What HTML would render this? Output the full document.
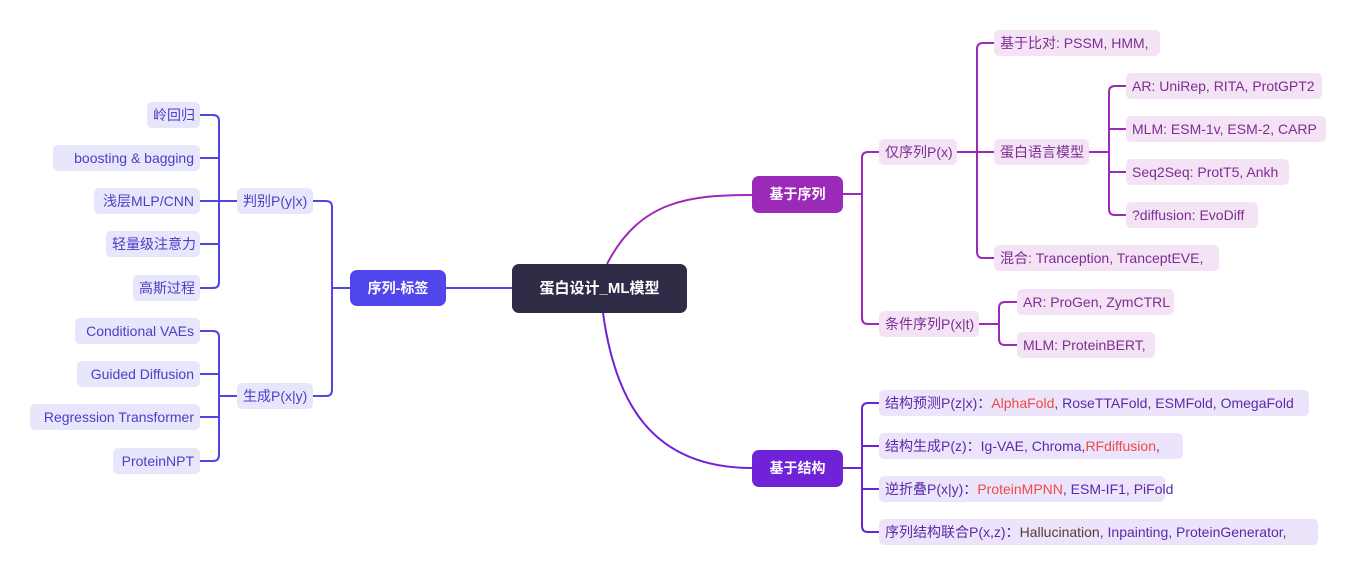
<!DOCTYPE html>
<html><head><meta charset="utf-8"><style>
body{margin:0;width:1357px;height:577px;background:#fff;position:relative;overflow:hidden;font-family:"Liberation Sans","Noto Sans CJK SC",sans-serif;}
.n{position:absolute;height:26px;line-height:26px;font-size:14px;border-radius:5px;padding:0 6px;box-sizing:border-box;white-space:nowrap;}
.s{background:#f3e3f5;color:#7d2d94;}
.t{background:#ece4fb;color:#5a2aa8;}
.l{background:#e8e6fb;color:#4a3fc8;text-align:right;}
.m{position:absolute;color:#fff;font-weight:bold;font-size:14px;text-align:center;border-radius:7px;}
.r{color:#f04848}
svg{position:absolute;left:0;top:0}
</style></head><body>
<svg width="1357" height="577" fill="none" stroke-width="2">
<g stroke="#4f46e5">
<path d="M446 288 H512"/>
<path d="M350 288 H332 M313 201 H326 Q332 201 332 207 V390 Q332 396 326 396 H313"/>
<path d="M237 201 H219 M200 115 H213 Q219 115 219 121 V282 Q219 288 213 288 H200 M200 158 H219 M200 201 H219 M200 244 H219"/>
<path d="M237 396 H219 M200 331 H213 Q219 331 219 337 V455 Q219 461 213 461 H200 M200 374 H219 M200 417 H219"/>
</g>
<path d="M607 264 C640 200 690 195 752 195" stroke="#9c2ab8"/>
<path d="M603 313 C615 400 650 468 752 468" stroke="#7022d8"/>
<g stroke="#9c2ab8">
<path d="M843 194 H862 M879 152 H868 Q862 152 862 158 V318 Q862 324 868 324 H879"/>
<path d="M957 152 H994 M994 43 H983 Q977 43 977 49 V252 Q977 258 983 258 H994"/>
<path d="M1089 152 H1109 M1126 86 H1115 Q1109 86 1109 92 V209 Q1109 215 1115 215 H1126 M1109 129 H1126 M1109 172 H1126"/>
<path d="M979 324 H999 M1017 302 H1005 Q999 302 999 308 V339 Q999 345 1005 345 H1017"/>
</g>
<g stroke="#7022d8">
<path d="M843 468 H862 M879 403 H868 Q862 403 862 409 V526 Q862 532 868 532 H879 M862 446 H879 M862 489 H879"/>
</g>
</svg>
<div class="m" style="left:512px;top:264px;width:175px;height:49px;line-height:49px;background:#2e2c47;font-size:15px">蛋白设计_ML模型</div>
<div class="m" style="left:350px;top:270px;width:96px;height:36px;line-height:36px;background:#5046ec">序列-标签</div>
<div class="m" style="left:752px;top:176px;width:91px;height:37px;line-height:37px;background:#9c2ab8">基于序列</div>
<div class="m" style="left:752px;top:450px;width:91px;height:37px;line-height:37px;background:#7022d8">基于结构</div>

<div class="n l" style="left:237px;top:188px;width:76px">判别P(y|x)</div>
<div class="n l" style="left:237px;top:383px;width:76px">生成P(x|y)</div>
<div class="n l" style="left:147px;top:102px;width:53px">岭回归</div>
<div class="n l" style="left:53px;top:145px;width:147px">boosting &amp; bagging</div>
<div class="n l" style="left:94px;top:188px;width:106px">浅层MLP/CNN</div>
<div class="n l" style="left:106px;top:231px;width:94px">轻量级注意力</div>
<div class="n l" style="left:133px;top:275px;width:67px">高斯过程</div>
<div class="n l" style="left:75px;top:318px;width:125px">Conditional VAEs</div>
<div class="n l" style="left:77px;top:361px;width:123px">Guided Diffusion</div>
<div class="n l" style="left:30px;top:404px;width:170px">Regression Transformer</div>
<div class="n l" style="left:113px;top:448px;width:87px">ProteinNPT</div>

<div class="n s" style="left:879px;top:139px;width:78px">仅序列P(x)</div>
<div class="n s" style="left:994px;top:30px;width:166px">基于比对: PSSM, HMM,</div>
<div class="n s" style="left:994px;top:139px;width:95px">蛋白语言模型</div>
<div class="n s" style="left:1126px;top:73px;width:196px">AR: UniRep, RITA, ProtGPT2</div>
<div class="n s" style="left:1126px;top:116px;width:200px">MLM: ESM-1v, ESM-2, CARP</div>
<div class="n s" style="left:1126px;top:159px;width:163px">Seq2Seq: ProtT5, Ankh</div>
<div class="n s" style="left:1126px;top:202px;width:132px">?diffusion: EvoDiff</div>
<div class="n s" style="left:994px;top:245px;width:225px">混合: Tranception, TranceptEVE,</div>
<div class="n s" style="left:879px;top:311px;width:100px">条件序列P(x|t)</div>
<div class="n s" style="left:1017px;top:289px;width:157px">AR: ProGen, ZymCTRL</div>
<div class="n s" style="left:1017px;top:332px;width:138px">MLM: ProteinBERT,</div>

<div class="n t" style="left:879px;top:390px;width:430px">结构预测P(z|x)：<span class="r">AlphaFold</span>, RoseTTAFold, ESMFold, OmegaFold</div>
<div class="n t" style="left:879px;top:433px;width:304px">结构生成P(z)：Ig-VAE, Chroma,<span class="r">RFdiffusion</span>,</div>
<div class="n t" style="left:879px;top:476px;width:286px">逆折叠P(x|y)：<span class="r">ProteinMPNN</span>, ESM-IF1, PiFold</div>
<div class="n t" style="left:879px;top:519px;width:439px">序列结构联合P(x,z)：<span style="color:#5a3a3a">Hallucination</span>, Inpainting, ProteinGenerator,</div>
</body></html>
